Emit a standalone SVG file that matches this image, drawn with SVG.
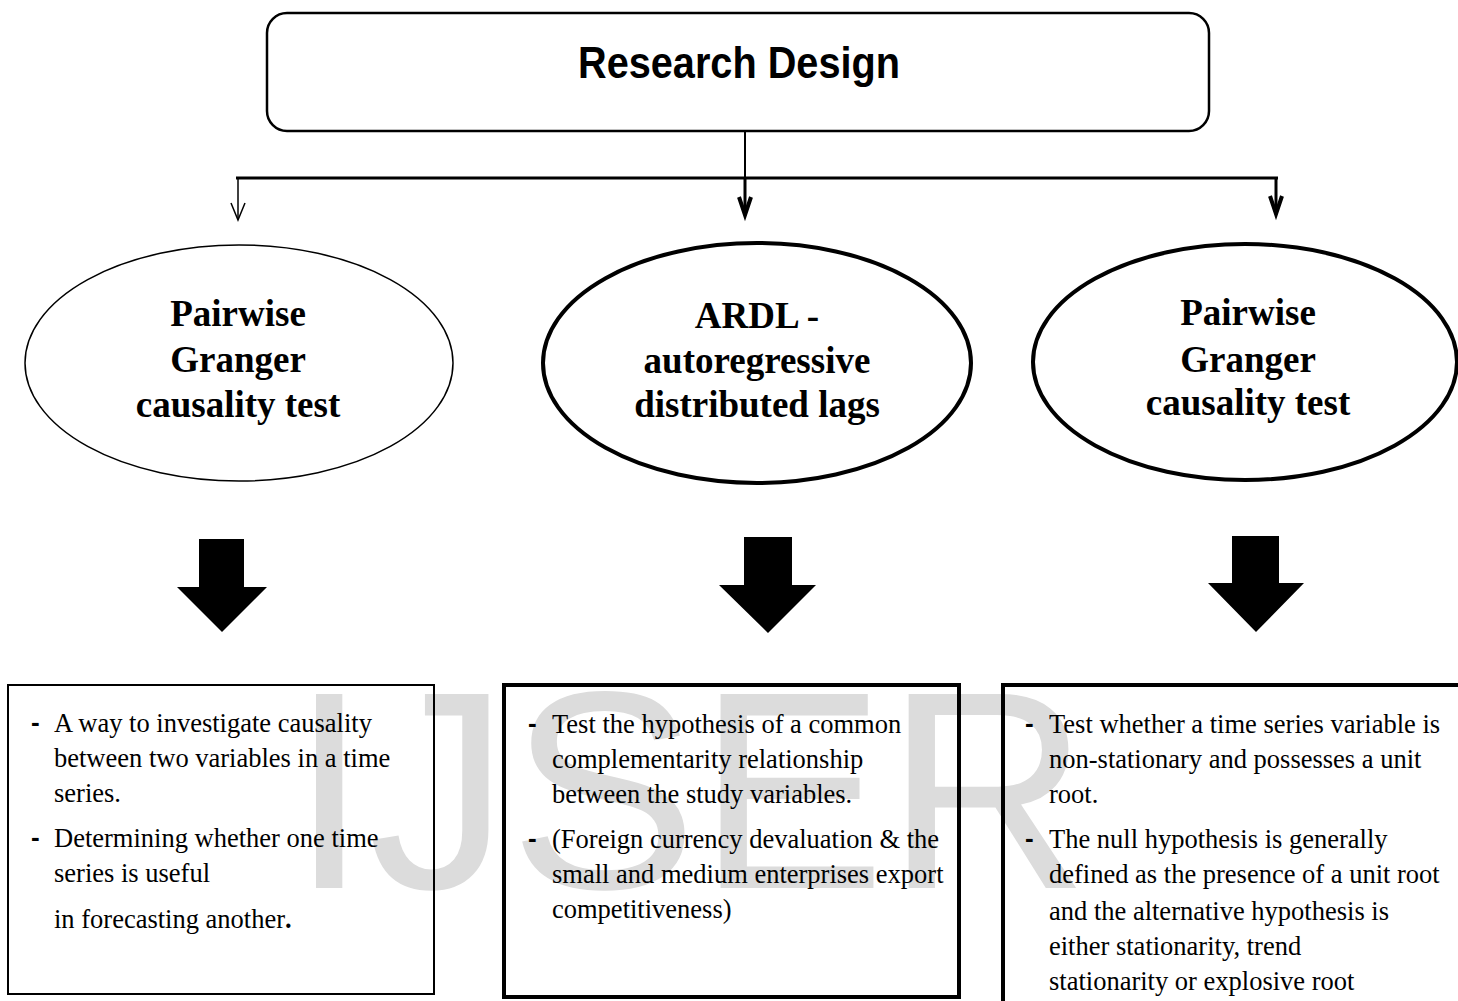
<svg xmlns="http://www.w3.org/2000/svg" width="1458" height="1001" viewBox="0 0 1458 1001">
  <style>
    .bg{fill:#ffffff}
    .wm{font-family:"Liberation Sans",Arial,sans-serif;font-size:282px;fill:#dcdcdc}
    .title{font-family:"Liberation Sans",Arial,sans-serif;font-weight:bold;font-size:44px;fill:#000;text-anchor:middle}
    .ell-text{font-family:"Liberation Serif","Times New Roman",serif;font-weight:bold;font-size:37px;fill:#000;text-anchor:middle}
    .box-text{font-family:"Liberation Serif","Times New Roman",serif;font-size:26.5px;fill:#000}
    .dash{font-family:"Liberation Sans",Arial,sans-serif;font-weight:bold;font-size:26px;fill:#000}
    .line{stroke:#000;fill:none}
    .block{fill:#000}
  </style>
  <rect class="bg" x="0" y="0" width="1458" height="1001"/>
  <text class="wm" x="290" y="888">IJSER</text>

  <g id="connectors">
    <line class="line" x1="745" y1="132" x2="745" y2="178" stroke-width="2"/>
    <line class="line" x1="236" y1="178" x2="1278" y2="178" stroke-width="3"/>
    <line class="line" x1="238" y1="178" x2="238" y2="219" stroke-width="1.5"/>
    <polyline class="line" points="231,203 238,220 245,203" stroke-width="1.5"/>
    <line class="line" x1="745" y1="178" x2="745" y2="214" stroke-width="3"/>
    <polyline class="line" points="739,197 745,215 751,197" stroke-width="4"/>
    <line class="line" x1="1276" y1="178" x2="1276" y2="213" stroke-width="3"/>
    <polyline class="line" points="1270,196 1276,214 1282,196" stroke-width="4"/>
    <polygon class="block" points="199,539 244,539 244,587 267,587 222,632 177,587 199,587"/>
    <polygon class="block" points="744,537 792,537 792,585 816,585 768,633 719,585 744,585"/>
    <polygon class="block" points="1232,536 1279,536 1279,583 1304,583 1256,632 1208,583 1232,583"/>
  </g>

  <g id="node-title">
    <rect x="267" y="13" width="942" height="118" rx="20" ry="20" fill="#fff" stroke="#000" stroke-width="2.5"/>
    <text class="title" x="739" y="78" textLength="322" lengthAdjust="spacingAndGlyphs">Research Design</text>
  </g>

  <g id="node-granger-left">
    <ellipse cx="239" cy="363" rx="214" ry="118" fill="#fff" stroke="#000" stroke-width="1.5"/>
    <text class="ell-text" x="238" y="326">Pairwise</text>
    <text class="ell-text" x="238" y="372">Granger</text>
    <text class="ell-text" x="238" y="417">causality test</text>
  </g>

  <g id="node-ardl">
    <ellipse cx="757" cy="363" rx="214" ry="120" fill="#fff" stroke="#000" stroke-width="4"/>
    <text class="ell-text" x="757" y="328">ARDL -</text>
    <text class="ell-text" x="757" y="373">autoregressive</text>
    <text class="ell-text" x="757" y="417">distributed lags</text>
  </g>

  <g id="node-granger-right">
    <ellipse cx="1245" cy="362" rx="212" ry="118" fill="#fff" stroke="#000" stroke-width="4"/>
    <text class="ell-text" x="1248" y="325">Pairwise</text>
    <text class="ell-text" x="1248" y="372">Granger</text>
    <text class="ell-text" x="1248" y="415">causality test</text>
  </g>

  <g id="box-left">
    <rect x="8" y="685" width="426" height="309" fill="none" stroke="#000" stroke-width="2"/>
    <text class="dash" x="31" y="731">-</text>
    <text class="dash" x="31" y="846">-</text>
    <text class="box-text" x="54" y="732">A way to investigate causality</text>
    <text class="box-text" x="54" y="767">between two variables in a time</text>
    <text class="box-text" x="54" y="802">series.</text>
    <text class="box-text" x="54" y="847">Determining whether one time</text>
    <text class="box-text" x="54" y="882">series is useful</text>
    <text class="box-text" x="54" y="928">in forecasting another<tspan font-weight="bold">.</tspan></text>
  </g>

  <g id="box-middle">
    <rect x="504" y="685" width="455" height="312" fill="none" stroke="#000" stroke-width="4"/>
    <text class="dash" x="528" y="732">-</text>
    <text class="dash" x="528" y="847">-</text>
    <text class="box-text" x="552" y="733">Test the hypothesis of a common</text>
    <text class="box-text" x="552" y="768">complementarity relationship</text>
    <text class="box-text" x="552" y="803">between the study variables.</text>
    <text class="box-text" x="552" y="848">(Foreign currency devaluation &amp; the</text>
    <text class="box-text" x="552" y="883">small and medium enterprises export</text>
    <text class="box-text" x="552" y="918">competitiveness)</text>
  </g>

  <g id="box-right">
    <rect x="1003" y="685" width="500" height="400" fill="none" stroke="#000" stroke-width="4"/>
    <text class="dash" x="1025" y="732">-</text>
    <text class="dash" x="1025" y="847">-</text>
    <text class="box-text" x="1049" y="733">Test whether a time series variable is</text>
    <text class="box-text" x="1049" y="768">non-stationary and possesses a unit</text>
    <text class="box-text" x="1049" y="803">root.</text>
    <text class="box-text" x="1049" y="848">The null hypothesis is generally</text>
    <text class="box-text" x="1049" y="883">defined as the presence of a unit root</text>
    <text class="box-text" x="1049" y="920">and the alternative hypothesis is</text>
    <text class="box-text" x="1049" y="955">either stationarity, trend</text>
    <text class="box-text" x="1049" y="990">stationarity or explosive root</text>
  </g>
</svg>
